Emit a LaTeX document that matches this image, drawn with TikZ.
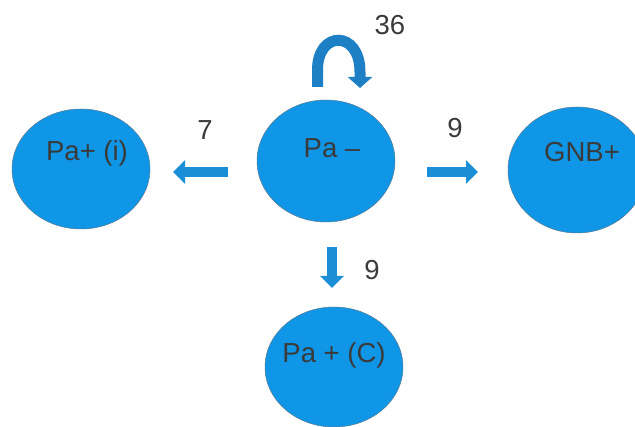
\documentclass[tikz,border=0pt]{standalone}
\usepackage{fontspec}
\setmainfont{Liberation Sans}
\usetikzlibrary{arrows.meta}
\definecolor{circfill}{HTML}{0F96E6}
\definecolor{circedge}{HTML}{5A7A90}
\definecolor{arrblue}{HTML}{1A8FD8}
\definecolor{loopblue}{HTML}{1E80C4}
\definecolor{txt}{HTML}{3A3A3A}
\tikzset{
  state/.style={ellipse, fill=circfill, draw=circedge, line width=0.5pt},
  lbl/.style={text=txt, font=\fontsize{27.5}{30}\selectfont, inner sep=0pt},
  blockarrow/.style={draw=arrblue, line width=10pt, -{Triangle[width=23pt,length=12pt]}},
}
\usetikzlibrary{shapes.geometric}
\begin{document}
\begin{tikzpicture}[x=1pt,y=-1pt]
\useasboundingbox (0,0) rectangle (635,427);
% ellipses
\node[state, minimum width=138pt, minimum height=120pt] (left) at (81,169) {};
\node[state, minimum width=138pt, minimum height=122pt] (center) at (326,161) {};
\node[state, minimum width=138pt, minimum height=126pt] (right) at (577,170) {};
\node[state, minimum width=138pt, minimum height=120pt] (bottom) at (334,367) {};
% texts
\node[lbl] (tleft) at (87,153) {Pa+ (i)};
\node[lbl] (tcenter) at (332,148) {Pa –};
\node[lbl] (tright) at (582,152) {GNB+};
\node[lbl] (tbottom) at (334,355) {Pa + (C)};
% arrows
\coordinate (la1) at (228,172);
\coordinate (la2) at (173,172);
\coordinate (ra1) at (427,172);
\coordinate (ra2) at (478,172);
\coordinate (da1) at (332,247);
\coordinate (da2) at (332,288);
\draw[blockarrow] (la1) -- (la2);
\draw[blockarrow] (ra1) -- (ra2);
\draw[blockarrow] (da1) -- (da2);
% loop arrow
\coordinate (l1) at (317.5,87);
\coordinate (l2) at (360,88);
\draw[draw=loopblue, line width=11pt, -{Triangle[width=24pt,length=11pt]}]
  (l1) -- (317.5,70) .. controls (317.5,30) and (360,30) .. (360,72) -- (l2);
% numbers
\node[lbl] (n7) at (205,130) {7};
\node[lbl] (n9a) at (455,128) {9};
\node[lbl] (n9b) at (372,270) {9};
\node[lbl] (n36) at (390,25) {36};
\end{tikzpicture}
\end{document}
